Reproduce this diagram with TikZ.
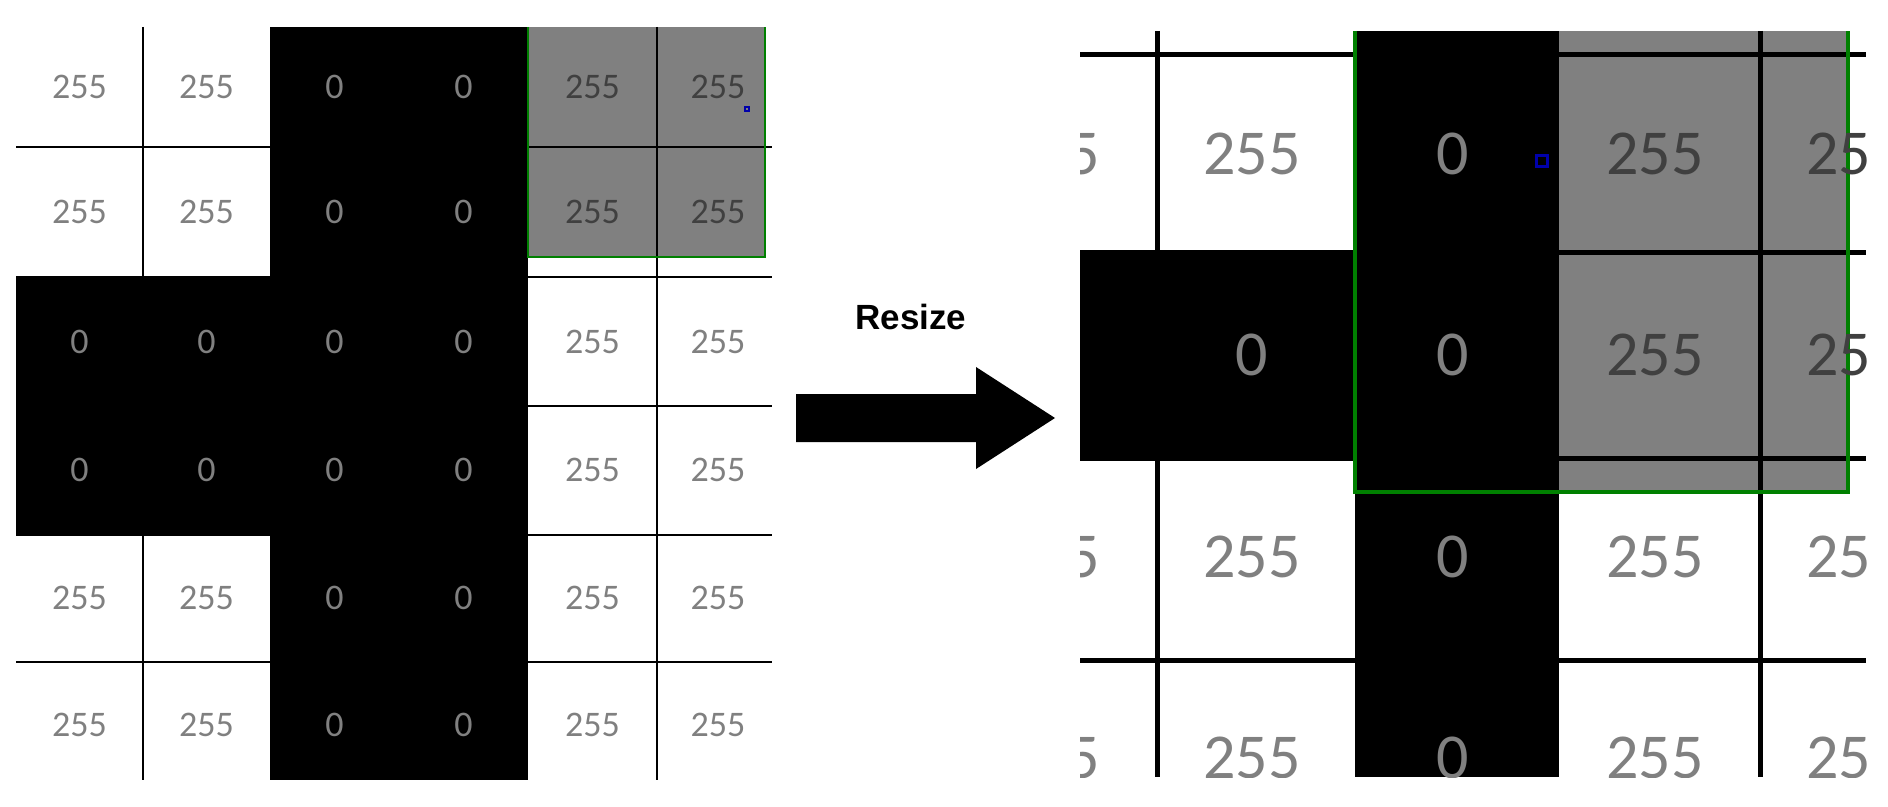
\documentclass[tikz,border=0pt]{standalone}
\usepackage{fontspec}
\setmainfont{Carlito}
\newfontfamily\arialfont{Liberation Sans}
\definecolor{numgray}{RGB}{128,128,128}
\definecolor{numdark}{RGB}{64,64,64}
\definecolor{cellgray}{RGB}{128,128,128}
\definecolor{boxgreen}{RGB}{0,128,0}
\definecolor{dotblue}{RGB}{0,0,170}
\begin{document}
\begin{tikzpicture}[x=0.5pt,y=-0.5pt,
  smallnum/.style={font=\fontsize{18}{18}\selectfont, text=numgray, inner sep=0pt},
  bignum/.style={font=\fontsize{32}{32}\selectfont, text=numgray, inner sep=0pt},
  ongray/.style={text=numdark},
  thingrid/.style={line width=1pt, black},
  thickgrid/.style={line width=2.5pt, black},
  thingreen/.style={line width=1.2pt, boxgreen},
  thickgreen/.style={line width=2.2pt, boxgreen},
  bluemark/.style={draw=dotblue, line width=1pt},
]
\useasboundingbox (0,0) rectangle (1888,807);

% ---------------- left grid ----------------
\fill[black] (270,27) rectangle (528,780);
\fill[black] (16,277) rectangle (528,535);
\fill[cellgray] (528,27) rectangle (765,257);
\foreach \yy in {147,277,406,535,662} \draw[thingrid] (16,\yy) -- (772,\yy);
\foreach \xx in {143,657} \draw[thingrid] (\xx,27) -- (\xx,780);
\draw[thingreen] (528,27) -- (528,257) -- (765,257) -- (765,27);

\node[smallnum] (l11) at (79.5,87) {255};
\node[smallnum] (l12) at (206.5,87) {255};
\node[smallnum] (l13) at (334.5,87) {0};
\node[smallnum] (l14) at (463.5,87) {0};
\node[smallnum,ongray] (l15) at (592.5,87) {255};
\node[smallnum,ongray] (l16) at (718,87) {255};

\node[smallnum] (l21) at (79.5,212) {255};
\node[smallnum] (l22) at (206.5,212) {255};
\node[smallnum] (l23) at (334.5,212) {0};
\node[smallnum] (l24) at (463.5,212) {0};
\node[smallnum,ongray] (l25) at (592.5,212) {255};
\node[smallnum,ongray] (l26) at (718,212) {255};

\node[smallnum] (l31) at (79.5,342) {0};
\node[smallnum] (l32) at (206.5,342) {0};
\node[smallnum] (l33) at (334.5,342) {0};
\node[smallnum] (l34) at (463.5,342) {0};
\node[smallnum] (l35) at (592.5,342) {255};
\node[smallnum] (l36) at (718,342) {255};

\node[smallnum] (l41) at (79.5,470) {0};
\node[smallnum] (l42) at (206.5,470) {0};
\node[smallnum] (l43) at (334.5,470) {0};
\node[smallnum] (l44) at (463.5,470) {0};
\node[smallnum] (l45) at (592.5,470) {255};
\node[smallnum] (l46) at (718,470) {255};

\node[smallnum] (l51) at (79.5,598) {255};
\node[smallnum] (l52) at (206.5,598) {255};
\node[smallnum] (l53) at (334.5,598) {0};
\node[smallnum] (l54) at (463.5,598) {0};
\node[smallnum] (l55) at (592.5,598) {255};
\node[smallnum] (l56) at (718,598) {255};

\node[smallnum] (l61) at (79.5,725) {255};
\node[smallnum] (l62) at (206.5,725) {255};
\node[smallnum] (l63) at (334.5,725) {0};
\node[smallnum] (l64) at (463.5,725) {0};
\node[smallnum] (l65) at (592.5,725) {255};
\node[smallnum] (l66) at (718,725) {255};

\draw[dotblue, line width=0.8pt] (745,107) rectangle (749,111);

% ---------------- arrow ----------------
\node[font=\arialfont\bfseries\fontsize{17.5}{17.5}\selectfont, inner sep=0pt] (resize) at (911,317) {Resize};
\coordinate (a1) at (796,394);
\coordinate (a2) at (976,394);
\coordinate (a3) at (976,367);
\coordinate (tip) at (1055,418);
\coordinate (a5) at (976,469);
\coordinate (a6) at (976,442);
\coordinate (a7) at (796,442);
\fill[black] (a1) -- (a2) -- (a3) -- (tip) -- (a5) -- (a6) -- (a7) -- cycle;

% ---------------- right grid (zoomed) ----------------
\begin{scope}
\clip (1080,31) rectangle (1866,777);
\fill[black] (1080,253) rectangle (1355,458);
\fill[black] (1355,31) rectangle (1559,777);
\fill[cellgray] (1559,31) rectangle (1848,492);
\foreach \yy in {55,253,458,660} \draw[thickgrid] (1080,\yy) -- (1866,\yy);
\foreach \xx in {1157,1760} \draw[thickgrid] (\xx,31) -- (\xx,777);
\draw[thickgreen] (1355,31) -- (1355,492) -- (1848,492) -- (1848,31);

\node[bignum] (r10) at (1051,154) {255};
\node[bignum] (r11) at (1252,154) {255};
\node[bignum] (r12) at (1453,154) {0};
\node[bignum,ongray] (r13) at (1655,154) {255};
\node[bignum,ongray] (r14) at (1855,154) {255};

\node[bignum] (r21) at (1252,355) {0};
\node[bignum] (r22) at (1453,355) {0};
\node[bignum,ongray] (r23) at (1655,355) {255};
\node[bignum,ongray] (r24) at (1855,355) {255};

\node[bignum] (r30) at (1051,557) {255};
\node[bignum] (r31) at (1252,557) {255};
\node[bignum] (r32) at (1453,557) {0};
\node[bignum] (r33) at (1655,557) {255};
\node[bignum] (r34) at (1855,557) {255};

\node[bignum] (r40) at (1051,758) {255};
\node[bignum] (r41) at (1252,758) {255};
\node[bignum] (r42) at (1453,758) {0};
\node[bignum] (r43) at (1655,758) {255};
\node[bignum] (r44) at (1855,758) {255};

\draw[dotblue, line width=1.5pt] (1536,156) rectangle (1547,167);
\end{scope}
\end{tikzpicture}
\end{document}
